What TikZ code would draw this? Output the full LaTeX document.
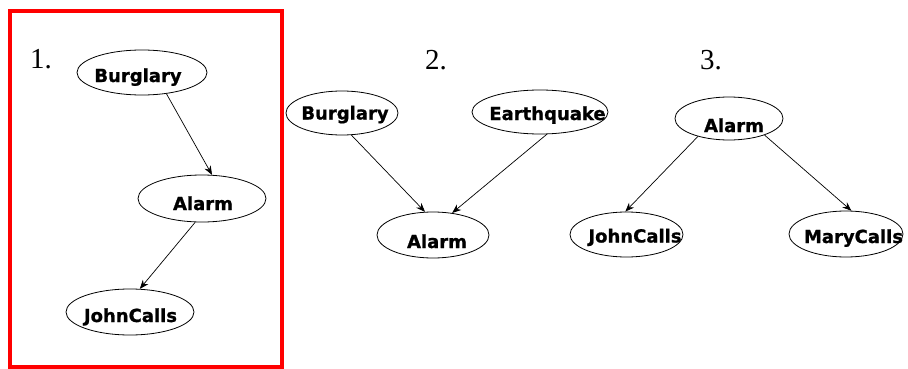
\documentclass[tikz,border=0pt]{standalone}
\usepackage{fontspec}
\setmainfont{Liberation Serif}
\setsansfont{DejaVu Sans}[BoldFeatures={FakeBold=1.0}]
\usetikzlibrary{shapes.geometric,arrows.meta}
\tikzset{
  ell/.style={draw=black, line width=0.8pt, ellipse, inner sep=0pt},
  lbl/.style={anchor=base, inner sep=0pt, font=\sffamily\bfseries\fontsize{18}{20}\selectfont},
  num/.style={anchor=base west, inner sep=0pt, font=\rmfamily\fontsize{29}{32}\selectfont},
  edge/.style={line width=0.7pt, -{Stealth[length=9pt,width=7pt]}},
  frame/.style={draw=red, line width=4pt}
}
\begin{document}
\begin{tikzpicture}[x=1pt, y=-1pt]
\useasboundingbox (0,0) rectangle (908,369);
\draw[frame] (10,11) rectangle (282,367);

% numbers
\node[num] (n1) at (30,69) {1.};
\node[num] (n2) at (425,70) {2.};
\node[num] (n3) at (700,70) {3.};

% panel 1
\node[ell, minimum width=130pt, minimum height=45pt] (b1) at (142,72.5) {};
\node[lbl] (b1t) at (138,82) {Burglary};
\node[ell, minimum width=128pt, minimum height=47pt] (a1) at (202,198.5) {};
\node[lbl] (a1t) at (203,210) {Alarm};
\node[ell, minimum width=128pt, minimum height=46pt] (j1) at (130,312) {};
\node[lbl] (j1t) at (130.5,322) {JohnCalls};
\draw[edge] (b1.319) -- (a1.67);
\draw[edge] (a1.254) -- (j1.67);

% panel 2
\node[ell, minimum width=112pt, minimum height=44pt] (b2) at (342,113) {};
\node[lbl] (b2t) at (345,119.5) {Burglary};
\node[ell, minimum width=136pt, minimum height=44pt] (e2) at (540,112) {};
\node[lbl] (e2t) at (547.5,120) {Earthquake};
\node[ell, minimum width=112pt, minimum height=46pt] (a2) at (433,235) {};
\node[lbl] (a2t) at (437,248) {Alarm};
\draw[edge] (b2.293) -- (a2.109);
\draw[edge] (e2.287) -- (a2.49);

% panel 3
\node[ell, minimum width=108pt, minimum height=43pt] (a3) at (729,118.5) {};
\node[lbl] (a3t) at (734,132) {Alarm};
\node[ell, minimum width=113pt, minimum height=45pt] (j3) at (626.5,234.5) {};
\node[lbl] (j3t) at (635,242.5) {JohnCalls};
\node[ell, minimum width=114pt, minimum height=46pt] (m3) at (846,234) {};
\node[lbl] (m3t) at (853.5,243) {MaryCalls};
\draw[edge] (a3.210) -- (j3.93);
\draw[edge] (a3.335) -- (m3.77);
\end{tikzpicture}
\end{document}
